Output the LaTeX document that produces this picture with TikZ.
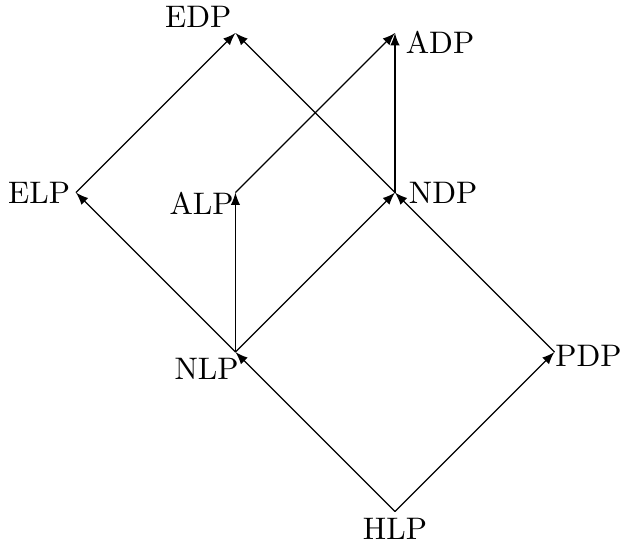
\documentclass[tikz,border=0pt]{standalone}
\usepackage{amsmath}
\usepackage{tikz}
\usetikzlibrary{arrows.meta,positioning}

\begin{document}
\begin{tikzpicture}[
        x=1.8cm, y=1.8cm,
        lbl/.style={inner sep=0pt, outer sep=0pt},
        arrow/.style={-latex}
      ]
        \useasboundingbox (-0.476,-0.204) rectangle (3.417,3.207);
        % lattice points
        \coordinate (hlp) at (2,0);
        \coordinate (nlp) at (1,1);
        \coordinate (pdp) at (3,1);
        \coordinate (elp) at (0,2);
        \coordinate (alp) at (1,2);
        \coordinate (ndp) at (2,2);
        \coordinate (edp) at (1,3);
        \coordinate (adp) at (2,3);
        % names
        \node[lbl, anchor=north, yshift=-2.2pt] (hlp-l) at (hlp) {HLP};
        \node[lbl, anchor=north east, xshift=1pt, yshift=-1.9pt] (nlp-l) at (nlp) {NLP};
        \node[lbl, anchor=west, xshift=0.3pt, yshift=-1.3pt] (pdp-l) at (pdp) {PDP};
        \node[lbl, anchor=east, xshift=-1.9pt] (elp-l) at (elp) {ELP};
        \node[lbl, anchor=north east, xshift=-0.6pt] (alp-l) at (alp) {ALP};
        \node[lbl, anchor=west, xshift=4.5pt] (ndp-l) at (ndp) {NDP};
        \node[lbl, anchor=south east, xshift=-1.3pt, yshift=1.9pt] (edp-l) at (edp) {EDP};
        \node[lbl, anchor=north west, xshift=3.5pt, yshift=0.6pt] (adp-l) at (adp) {ADP};
        % order arrows
        \draw[arrow] (hlp) -- (nlp);
        \draw[arrow] (hlp) -- (pdp);
        \draw[arrow] (nlp) -- (elp);
        \draw[arrow] (nlp) -- (alp);
        \draw[arrow] (nlp) -- (ndp);
        \draw[arrow] (pdp) -- (ndp);
        \draw[arrow] (elp) -- (edp);
        \draw[arrow] (ndp) -- (edp);
        \draw[arrow] (alp) -- (adp);
        \draw[arrow] (ndp) -- (adp);
      \end{tikzpicture}
\end{document}
